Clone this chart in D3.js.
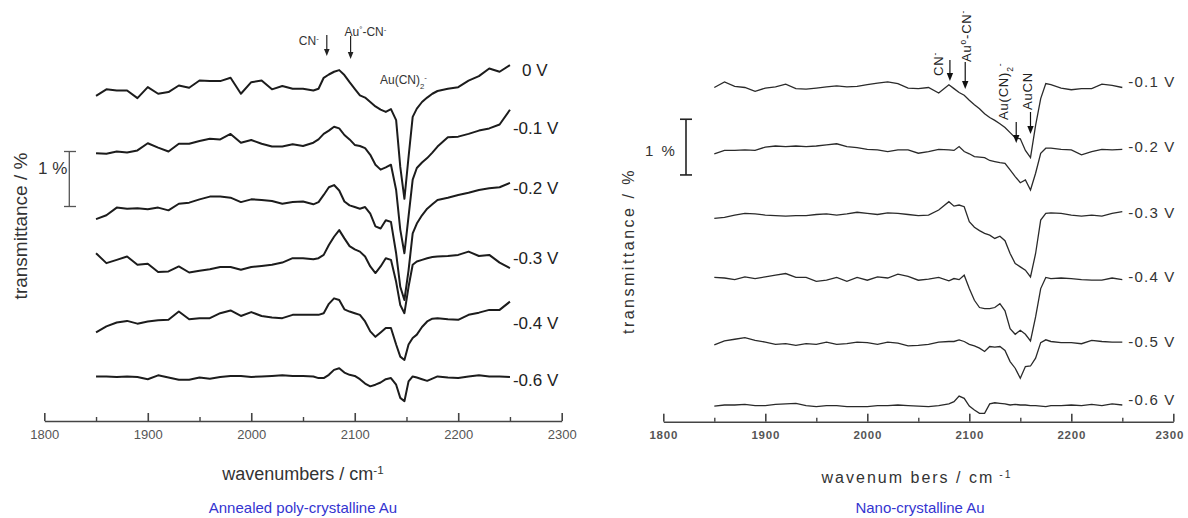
<!DOCTYPE html>
<html>
<head>
<meta charset="utf-8">
<script src="https://cdn.jsdelivr.net/npm/d3@7"></script>
<style>
  body { margin: 0; background: #fff; }
  text { font-family: 'Liberation Sans', Arial, sans-serif; }
</style>
</head>
<body>
<div id="chart"></div>
<script>
// ---- Data: annealed poly-crystalline Au ----
const wavesPoly = [1850,1860,1870,1880,1890,1900,1910,1920,1930,1940,1950,1960,1970,1980,1990,2000,2010,2020,2030,2040,2050,2060,
  2065,2070,2075,2080,2085,2090,2095,2100,2105,2110,2115,2120,2125,2130,2135,2140,
  2144,2148,2152,2156,2160,2165,2170,2175,
  2180,2190,2200,2210,2220,2230,2240,2250];

const poly0V = [0,0.12,0.10,0.10,-0.04,0.16,0.04,0.07,0.19,0.15,0.28,0.27,0.27,0.33,0.04,0.25,0.28,0.12,0.18,0.13,0.13,0.10,
  0.13,0.33,0.39,0.44,0.47,0.38,0.25,0.13,0.01,-0.03,-0.11,-0.19,-0.25,-0.29,-0.24,-0.44,
  -1.29,-1.87,-1.11,-0.38,-0.23,-0.11,-0.03,0.04,
  0.09,0.13,0.16,0.28,0.36,0.50,0.44,0.56];
const polyM01V = [0,-0.01,0.03,0.01,0.05,0.18,0.10,0.03,0.17,0.17,0.22,0.26,0.25,0.35,0.19,0.24,0.17,0.12,0.12,0.16,0.13,0.19,
  0.25,0.35,0.41,0.48,0.45,0.33,0.25,0.15,0.13,0.09,-0.03,-0.21,-0.30,-0.26,-0.21,-0.67,
  -1.39,-1.82,-1.15,-0.48,-0.27,-0.17,-0.09,0.01,
  0.12,0.29,0.30,0.35,0.41,0.45,0.52,0.79];
const polyM02V = [0,0.07,0.21,0.19,0.20,0.18,0.21,0.16,0.28,0.30,0.36,0.41,0.41,0.39,0.31,0.36,0.35,0.33,0.28,0.31,0.32,0.27,
  0.31,0.44,0.58,0.62,0.52,0.32,0.25,0.22,0.19,0.22,0.10,-0.13,-0.17,-0.02,-0.05,-0.62,
  -1.23,-1.47,-0.93,-0.26,-0.08,0.07,0.19,0.27,
  0.35,0.39,0.44,0.48,0.53,0.56,0.58,0.66];
const polyM03V = [0,-0.18,-0.12,-0.06,-0.21,-0.19,-0.34,-0.33,-0.24,-0.35,-0.32,-0.29,-0.25,-0.25,-0.30,-0.25,-0.23,-0.21,-0.17,-0.09,-0.09,-0.11,
  -0.09,-0.03,0.15,0.30,0.42,0.27,0.13,0.07,0.03,-0.06,-0.24,-0.36,-0.24,-0.09,-0.12,-0.52,
  -0.94,-1.09,-0.61,-0.21,-0.15,-0.12,-0.09,-0.07,
  -0.06,-0.05,-0.03,0.03,-0.05,-0.03,-0.17,-0.27];
const polyM04V = [0,0.11,0.18,0.21,0.16,0.20,0.22,0.23,0.38,0.24,0.26,0.26,0.35,0.40,0.30,0.37,0.30,0.27,0.26,0.32,0.32,0.32,
  0.32,0.35,0.52,0.62,0.59,0.42,0.38,0.35,0.32,0.20,0.02,-0.08,0,0.08,0.08,-0.22,
  -0.44,-0.50,-0.22,-0.10,-0.04,0.10,0.20,0.25,
  0.26,0.24,0.23,0.32,0.36,0.41,0.41,0.56];
const polyM06V = [0,0,-0.01,0,-0.01,-0.05,0.02,-0.02,-0.06,-0.06,-0.02,-0.04,-0.01,0.01,0.01,-0.01,0,0.01,0.02,0.01,0.01,0,
  -0.03,-0.03,0.03,0.12,0.15,0.07,0.03,0.01,-0.05,-0.13,-0.18,-0.15,-0.11,-0.05,-0.03,-0.15,
  -0.39,-0.45,-0.09,0,-0.02,-0.05,-0.08,-0.04,
  0,-0.02,-0.03,0,0.02,0,0,-0.01];

const labelsPoly = ['0 V', '-0.1 V', '-0.2 V', '-0.3 V', '-0.4 V', '-0.6 V'];
const offsetsPoly = [5.91, 4.87, 3.67, 3.05, 1.61, 0.81]; // stacking offsets, %

// ---- Data: nano-crystalline Au ----
const wavesNano = [1850,1860,1870,1880,1890,1900,1910,1920,1930,1940,1950,1960,1970,1980,1990,2000,2010,2020,2030,2040,2050,2060,2070,2080,
  2085,2090,2095,2100,2105,2110,2115,2120,2125,2130,2135,2140,2145,2150,2155,2160,2165,2170,2175,2180,
  2190,2200,2210,2220,2230,2240,2250];

const nanoM01V = [0,0.10,0.02,0,-0.07,-0.01,0.01,0.06,-0.02,-0.03,-0.01,0.01,0.03,0.01,0.02,0.05,0.08,0.10,0.07,-0.01,-0.02,0,-0.10,0.05,
  -0.02,-0.09,-0.14,-0.23,-0.31,-0.38,-0.47,-0.54,-0.59,-0.65,-0.72,-0.81,-0.90,-0.92,-1.13,-1.26,-0.68,-0.20,0.07,0.05,
  -0.01,-0.04,-0.02,-0.02,0.06,0.04,0];
const nanoM02V = [0,0.06,0.06,0.07,0.06,0.12,0.14,0.13,0.14,0.13,0.14,0.16,0.18,0.13,0.11,0.08,0.07,0.04,0.07,0.07,0.01,0.04,0.08,0.07,
  0.06,0.13,0.04,0,-0.05,-0.06,-0.07,-0.12,-0.14,-0.16,-0.17,-0.29,-0.41,-0.52,-0.47,-0.65,-0.35,0.01,0.10,0.10,
  0.08,0.07,-0.02,0.04,0.08,0.07,0.08];
const nanoM03V = [0,0.02,0.06,0.09,0.08,0.06,0.05,0.04,0.05,0.05,0.07,0.08,0.06,0.08,0.11,0.09,0.07,0.10,0.09,0.07,0.05,0.06,0.15,0.30,
  0.22,0.24,0.21,-0.06,-0.16,-0.22,-0.27,-0.30,-0.36,-0.32,-0.40,-0.63,-0.81,-0.87,-0.93,-1.05,-0.63,-0.03,0.09,0.10,
  0.09,0.06,0.04,0.06,0.04,0.09,0.12];
const nanoM04V = [0,-0.01,-0.04,0.01,-0.02,0.01,0.04,0.07,0,0,-0.07,-0.05,0,-0.07,0,-0.05,0.01,-0.01,0.06,0.02,-0.05,-0.03,0,-0.06,
  -0.02,-0.04,0.04,-0.20,-0.41,-0.54,-0.56,-0.56,-0.54,-0.47,-0.60,-0.92,-1.02,-0.95,-1.02,-1.14,-0.71,-0.20,0,-0.02,
  -0.01,-0.02,-0.04,-0.05,-0.05,-0.01,-0.04];
const nanoM05V = [0,0.07,0.10,0.13,0.08,0.05,0.01,0.02,-0.01,0.02,0.01,0.05,0.01,0.02,0.05,0.04,0.01,0.05,0.03,-0.02,-0.01,0.01,0.05,0.06,
  0.06,0.09,0.06,0.01,-0.02,-0.06,-0.12,-0.03,-0.04,-0.03,-0.10,-0.30,-0.42,-0.60,-0.39,-0.38,-0.24,0.04,0.09,0.06,
  0.04,0.04,0.02,0.08,0.06,0.05,0.05];
const nanoM06V = [0,0.02,0.02,0.03,0.01,0.01,0.03,0.04,0.05,0.01,-0.01,0.01,0.01,-0.01,-0.01,-0.01,0.01,0.01,0.02,0.01,0,-0.01,0.01,0.04,
  0.08,0.18,0.14,0,-0.07,-0.13,-0.13,0.04,0.06,0.05,0.04,0.02,0.03,0.02,0.02,0.01,0.01,0,-0.01,0.01,
  0.01,0.02,0.01,0.03,0.01,0.04,0.02];

const labelsNano = ['-0.1 V', '-0.2 V', '-0.3 V', '-0.4 V', '-0.5 V', '-0.6 V'];
const offsetsNano = [6.00, 4.81, 3.65, 2.59, 1.38, 0.28];

const xTicks = [1800, 1900, 2000, 2100, 2200, 2300];
const xMinorTicks = [1850, 1950, 2050, 2150, 2250];

// ---- Chart ----
const width = 1188;
const height = 518;

const svg = d3.select('#chart')
  .append('svg')
  .attr('width', width)
  .attr('height', height);

// writes text made of plain / sup / sub pieces
function richText(sel, parts, size) {
  parts.forEach(p => {
    const t = sel.append('tspan').text(p[0]);
    if (p[1] === 'sup') t.attr('baseline-shift', 'super').attr('font-size', size * 0.65);
    if (p[1] === 'sub') t.attr('baseline-shift', 'sub').attr('font-size', size * 0.65);
  });
  return sel;
}

function arrowDown(g, x, y1, y2, head, color) {
  g.append('line')
    .attr('x1', x).attr('x2', x).attr('y1', y1).attr('y2', y2 - head)
    .attr('stroke', color).attr('stroke-width', 1.2);
  g.append('path')
    .attr('d', `M${x - head * 0.4},${y2 - head}L${x + head * 0.4},${y2 - head}L${x},${y2}Z`)
    .attr('fill', color);
}

function drawAxis(g, x, yAxis, fontCfg) {
  const major = g.append('g')
    .attr('transform', `translate(0, ${yAxis})`)
    .call(d3.axisBottom(x).tickValues(xTicks).tickSizeInner(-8).tickSizeOuter(0).tickPadding(9).tickFormat(d3.format('d')));
  major.select('.domain').attr('stroke', '#444').attr('stroke-width', 1.6);
  major.selectAll('.tick line').attr('stroke', '#444').attr('stroke-width', 1.6);
  major.selectAll('.tick text')
    .attr('fill', '#555')
    .attr('dx', d => (d === 2300 ? fontCfg.lastShift : 0))
    .style('font-family', fontCfg.family)
    .style('font-size', fontCfg.size + 'px')
    .style('font-weight', fontCfg.weight)
    .style('letter-spacing', fontCfg.spacing + 'px');

  const minor = g.append('g')
    .attr('transform', `translate(0, ${yAxis})`)
    .call(d3.axisBottom(x).tickValues(xMinorTicks).tickSizeInner(-4).tickSizeOuter(0).tickFormat(''));
  minor.select('.domain').remove();
  minor.selectAll('.tick line').attr('stroke', '#444').attr('stroke-width', 1.4);
}

// ---- Left panel: annealed poly-crystalline Au ----
const gL = svg.append('g');
const xL = d3.scaleLinear().domain([1800, 2300]).range([44.3, 561.7]);
const yL = d3.scaleLinear().domain([0, 7]).range([421, 36]);
const polySeries = [poly0V, polyM01V, polyM02V, polyM03V, polyM04V, polyM06V];

polySeries.forEach((vals, i) => {
  gL.append('path')
    .datum(vals)
    .attr('fill', 'none')
    .attr('stroke', '#1c1c1c')
    .attr('stroke-width', 2)
    .attr('stroke-linejoin', 'round')
    .attr('d', d3.line()
      .x((d, j) => xL(wavesPoly[j]))
      .y(d => yL(offsetsPoly[i] + d)));
});

const labelYPoly = [70, 128, 188, 258, 323, 380];
labelsPoly.forEach((t, i) => {
  gL.append('text')
    .attr('x', i === 0 ? xL(2250) + 12 : xL(2250) + 3)
    .attr('y', labelYPoly[i])
    .attr('dy', '0.35em')
    .attr('font-size', 17)
    .attr('fill', '#222')
    .text(t);
});

drawAxis(gL, xL, 421, { family: "'Liberation Sans', Arial, sans-serif", size: 13, weight: 'normal', spacing: 0, lastShift: 0 });

// 1 % scale bar
const barL = 3.9;
gL.append('line').attr('x1', 69.3).attr('x2', 69.3).attr('y1', yL(barL)).attr('y2', yL(barL + 1)).attr('stroke', '#555').attr('stroke-width', 1.3);
[barL, barL + 1].forEach(v => gL.append('line').attr('x1', 64).attr('x2', 76).attr('y1', yL(v)).attr('y2', yL(v)).attr('stroke', '#555').attr('stroke-width', 1.3));
gL.append('text').attr('x', 38).attr('y', 174).attr('font-size', 17).attr('fill', '#333').text('1 %');

gL.append('text')
  .attr('transform', 'translate(27, 226) rotate(-90)')
  .attr('text-anchor', 'middle')
  .attr('font-size', 19)
  .attr('fill', '#333')
  .text('transmittance / %');

richText(gL.append('text').attr('x', 303).attr('y', 480).attr('text-anchor', 'middle').attr('font-size', 18).attr('fill', '#333'),
  [['wavenumbers / cm', null], ['-1', 'sup']], 18);

gL.append('text').attr('x', 303).attr('y', 513).attr('text-anchor', 'middle')
  .attr('font-size', 15).attr('fill', '#3434d0').text('Annealed poly-crystalline Au');

// band markers
richText(gL.append('text').attr('x', xL(2073) - 28).attr('y', 45).attr('font-size', 12).attr('fill', '#333'), [['CN', null], ['-', 'sup']], 12);
arrowDown(gL, xL(2073), 35, 56, 7, '#222');
richText(gL.append('text').attr('x', xL(2096) - 6).attr('y', 36).attr('font-size', 12).attr('fill', '#333'), [['Au', null], ['°', 'sup'], ['-CN', null], ['-', 'sup']], 12);
arrowDown(gL, xL(2096), 36, 59, 7, '#222');
richText(gL.append('text').attr('x', 380).attr('y', 84).attr('font-size', 12).attr('fill', '#333'), [['Au(CN)', null], ['2', 'sub'], ['-', 'sup']], 12);

// ---- Right panel: nano-crystalline Au ----
const gR = svg.append('g');
const xR = d3.scaleLinear().domain([1800, 2300]).range([663.3, 1173.3]);
const yR = d3.scaleLinear().domain([0, 7]).range([421.7, 31.8]);
const nanoSeries = [nanoM01V, nanoM02V, nanoM03V, nanoM04V, nanoM05V, nanoM06V];

nanoSeries.forEach((vals, i) => {
  gR.append('path')
    .datum(vals)
    .attr('fill', 'none')
    .attr('stroke', '#2a2a2a')
    .attr('stroke-width', 1.3)
    .attr('d', d3.line()
      .x((d, j) => xR(wavesNano[j]))
      .y(d => yR(offsetsNano[i] + d)));
});

const labelYNano = [82, 147, 213, 277, 342, 400];
labelsNano.forEach((t, i) => {
  gR.append('text')
    .attr('x', xR(2250) + 6)
    .attr('y', labelYNano[i])
    .attr('dy', '0.35em')
    .attr('font-size', 15)
    .attr('letter-spacing', 1.2)
    .attr('fill', '#333')
    .text(t);
});

drawAxis(gR, xR, 421.7, { family: "'Liberation Sans', Arial, sans-serif", size: 11.5, weight: 'bold', spacing: 0.8, lastShift: -4 });

const barR = 4.43;
gR.append('line').attr('x1', 686).attr('x2', 686).attr('y1', yR(barR)).attr('y2', yR(barR + 1)).attr('stroke', '#222').attr('stroke-width', 1.6);
[barR, barR + 1].forEach(v => gR.append('line').attr('x1', 680).attr('x2', 692).attr('y1', yR(v)).attr('y2', yR(v)).attr('stroke', '#222').attr('stroke-width', 1.6));
gR.append('text').attr('x', 645).attr('y', 156).attr('font-size', 15).attr('letter-spacing', 2).attr('fill', '#333').text('1 %');

gR.append('text')
  .attr('transform', 'translate(634, 251) rotate(-90)')
  .attr('text-anchor', 'middle')
  .attr('font-size', 16)
  .attr('letter-spacing', 2.5)
  .attr('fill', '#333')
  .text('transmittance / %');

richText(gR.append('text').attr('x', 917).attr('y', 483).attr('text-anchor', 'middle').attr('font-size', 16).attr('letter-spacing', 2).attr('fill', '#333'),
  [['wavenum bers / cm', null], [' -1', 'sup']], 16);

gR.append('text').attr('x', 920).attr('y', 513).attr('text-anchor', 'middle')
  .attr('font-size', 15).attr('fill', '#3434d0').text('Nano-crystalline Au');

// band markers (rotated labels)
function rotLabel(g, x, yBottom, parts) {
  richText(g.append('text')
    .attr('transform', `translate(${x}, ${yBottom}) rotate(-90)`)
    .attr('font-size', 13)
    .attr('letter-spacing', 0.8)
    .attr('fill', '#222'), parts, 13);
}
rotLabel(gR, 943, 76, [['CN', null], ['-', 'sup']]);
arrowDown(gR, xR(2081), 60, 81, 8, '#111');
rotLabel(gR, 971, 62, [['Au', null], ['o', 'sup'], ['-CN', null], ['-', 'sup']]);
arrowDown(gR, xR(2096), 62, 89, 8, '#111');
rotLabel(gR, 1008, 120, [['Au(CN)', null], ['2', 'sub'], ['-', 'sup']]);
arrowDown(gR, xR(2146), 122, 143, 8, '#111');
rotLabel(gR, 1032, 110, [['AuCN', null]]);
arrowDown(gR, xR(2160), 112, 134, 8, '#111');
</script>
</body>
</html>
